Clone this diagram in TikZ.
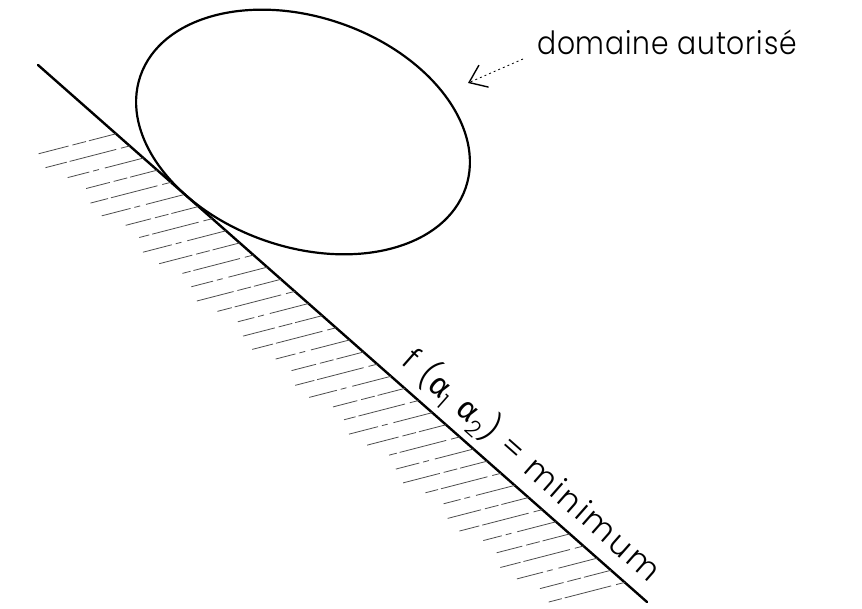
\documentclass[tikz,border=0pt]{standalone}
\usepackage{fontspec}
\setmainfont{Poppins}[UprightFont={* Light}]
\newfontfamily\grk{Fira Sans}
\usetikzlibrary{arrows.meta}
\begin{document}
\begin{tikzpicture}[x=1pt,y=1pt,
  mainline/.style={line width=2.4pt, line cap=round},
  domainline/.style={line width=2.2pt},
  hatch/.style={line width=0.8pt, black!70},
  hatchA/.style={hatch, dash pattern=on 28pt off 3pt on 14pt off 4pt on 40pt off 2pt},
  hatchB/.style={hatch, dash pattern=on 9pt off 5pt on 48pt off 3pt on 30pt off 2pt},
  hatchC/.style={hatch, dash pattern=on 40pt off 6pt on 6pt off 4pt on 30pt off 3pt},
  lbl/.style={font=\fontsize{32}{32}\selectfont, inner sep=0pt},
  pointer/.style={line width=0.8pt, dash pattern=on 2pt off 3pt,
    -{Straight Barb[length=16pt,width=24pt,line width=1.4pt]}},
]
\useasboundingbox (0,0) rectangle (862,-609);
% main line f = minimum
\coordinate (A) at (38,-65);
\coordinate (B) at (647,-602);
\draw[mainline] (A) -- (B);
% hatching
\foreach \i in {0,...,37}{
  \pgfmathsetmacro{\bx}{116+13.75*\i}
  \pgfmathsetmacro{\by}{-(65+0.8818*(\bx-38))}
  \pgfmathsetmacro{\len}{80+7*sin(\i*97)}
  \pgfmathsetmacro{\ex}{\bx-\len*0.968}
  \pgfmathsetmacro{\ey}{\by-\len*0.25}
  \pgfmathtruncatemacro{\k}{mod(\i,3)}
  \ifcase\k
    \draw[hatchA] (\bx,\by) -- (\ex,\ey);
  \or
    \draw[hatchB] (\bx,\by) -- (\ex,\ey);
  \else
    \draw[hatchC] (\bx,\by) -- (\ex,\ey);
  \fi
}
% allowed domain
\draw[domainline, rotate around={-19:(303,-132)}] (303,-132) ellipse [x radius=172, y radius=115];
% label of the domain
\node[lbl, anchor=base west] (dom) at (537,-55)
  {\addfontfeatures{LetterSpace=3}\scalebox{0.88}[1]{domaine autorisé}};
\coordinate (tipA) at (468,-83);
\draw[pointer] ([xshift=-14pt,yshift=-4pt]dom.base west) -- (tipA);
% label of the line
\node[lbl, rotate=-41.4] (fmin) at (531.7,-465.1)
  {\addfontfeatures{LetterSpace=8}f ({\grk α}\textsubscript{1} {\grk α}\textsubscript{2}) = minimum};
\end{tikzpicture}
\end{document}
